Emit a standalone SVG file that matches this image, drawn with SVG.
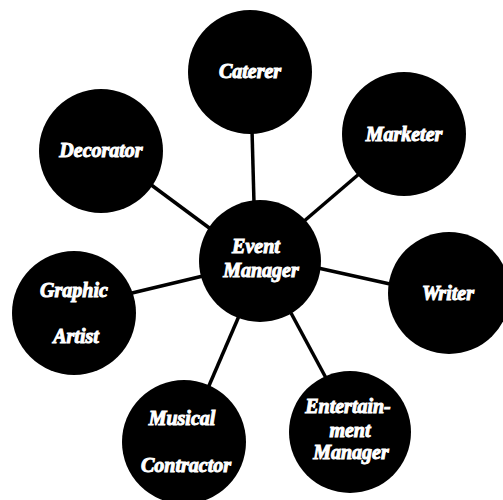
<svg xmlns="http://www.w3.org/2000/svg" width="503" height="500" viewBox="0 0 503 500">
<style>
.n{fill:#000}
.t{fill:#fff;font-family:"Liberation Serif","DejaVu Serif",serif;font-weight:bold;font-style:italic;font-size:20px;text-anchor:middle;stroke:#fff;stroke-width:1}
.c{stroke:#000;stroke-width:3.5;fill:none}
</style>
<rect width="503" height="500" fill="#fff"/>
<g id="connectors">
<line class="c" x1="252" y1="130" x2="254" y2="203"/>
<line class="c" x1="150" y1="184" x2="212" y2="230"/>
<line class="c" x1="359" y1="174" x2="303" y2="222"/>
<line class="c" x1="132" y1="293" x2="203" y2="276"/>
<line class="c" x1="318" y1="268" x2="390" y2="284"/>
<line class="c" x1="208" y1="388" x2="239" y2="316"/>
<line class="c" x1="291" y1="313" x2="326" y2="378"/>
</g>
<g id="caterer"><circle class="n" cx="250" cy="72" r="62"/><text class="t" x="250" y="78">Caterer</text></g>
<g id="decorator"><circle class="n" cx="101" cy="151" r="62"/><text class="t" x="101" y="157">Decorator</text></g>
<g id="marketer"><circle class="n" cx="404" cy="134" r="62"/><text class="t" x="404" y="141">Marketer</text></g>
<g id="event-manager"><circle class="n" cx="260" cy="261" r="61"/><text class="t" x="256" y="253">Event</text><text class="t" x="261" y="277">Manager</text></g>
<g id="graphic-artist"><circle class="n" cx="74" cy="313" r="62"/><text class="t" x="74" y="297">Graphic</text><text class="t" x="76" y="343">Artist</text></g>
<g id="writer"><circle class="n" cx="449" cy="293" r="61"/><text class="t" x="448" y="300">Writer</text></g>
<g id="musical-contractor"><circle class="n" cx="184" cy="442" r="62"/><text class="t" x="182" y="425">Musical</text><text class="t" x="186" y="472">Contractor</text></g>
<g id="entertainment-manager"><circle class="n" cx="350" cy="432" r="61"/><text class="t" x="348" y="413">Entertain-</text><text class="t" x="350" y="437">ment</text><text class="t" x="351" y="459">Manager</text></g>
</svg>
